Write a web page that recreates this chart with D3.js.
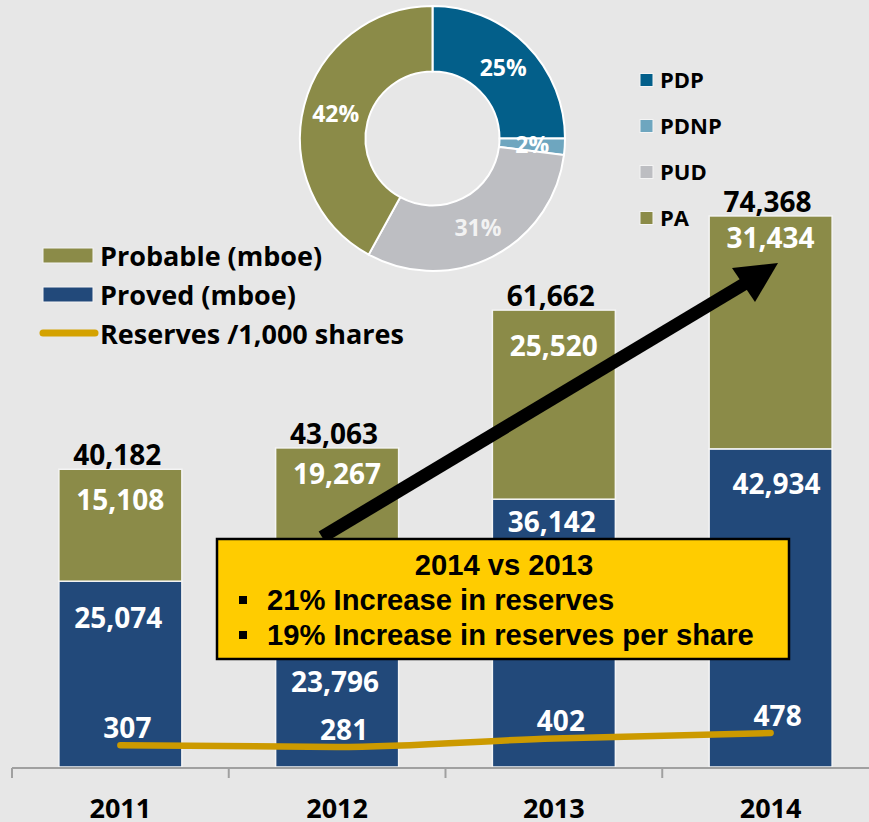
<!DOCTYPE html>
<html>
<head>
<meta charset="utf-8">
<script src="https://cdn.jsdelivr.net/npm/d3@7"></script>
<style>
  html, body { margin: 0; padding: 0; background: #e7e7e7; }
  svg { display: block; }
  text { font-family: "Open Sans", sans-serif; font-weight: bold; }
</style>
</head>
<body>
<svg id="chart" width="869" height="822"></svg>
<script>
// data
const years = ['2011', '2012', '2013', '2014'];
const proved = [25074, 23796, 36142, 42934];
const probable = [15108, 19267, 25520, 31434];
const totals = [40182, 43063, 61662, 74368];
const perShare = [307, 281, 402, 478];

const pieLabels = ['PDP', 'PDNP', 'PUD', 'PA'];
const pieValues = [25, 2, 31, 42];

const boxTitle = '2014 vs 2013';
const boxBullets = ['21% Increase in reserves', '19% Increase in reserves per share'];

// label nudges (px below segment top), taken from the slide
const provedLabelDy = [37, 91, 23, 35];
const probableLabelDy = [31, 26, 36, 22];

const colors = {
  probable: '#8b8b48',
  proved: '#22497a',
  line: '#cc9a00',
  pie: ['#035f8a', '#6ea6bf', '#bdbec2', '#8b8b48'],
  box: '#ffcc00'
};

const svg = d3.select('#chart');
const W = 869, H = 822;

svg.append('rect').attr('width', W).attr('height', H).attr('fill', '#e7e7e7');

// scales
const x = d3.scaleBand()
  .domain(years)
  .range([12, 879])
  .paddingInner(0.4325)
  .paddingOuter(0.4325 / 2);

const y = d3.scaleLinear().domain([0, 80000]).range([767, 767 - 80000 * 0.00741]);
const y2 = d3.scaleLinear().domain([0, 500]).range([767, 767 - 500 * 0.0711]);

const xc = d => x(d) + x.bandwidth() / 2;

const rows = years.map((yr, i) => ({
  year: yr, i,
  proved: proved[i], probable: probable[i], total: totals[i], perShare: perShare[i]
}));

// bars
const barG = svg.append('g');
barG.selectAll('rect.proved')
  .data(rows).enter().append('rect')
  .attr('class', 'proved')
  .attr('x', d => x(d.year))
  .attr('width', x.bandwidth())
  .attr('y', d => y(d.proved))
  .attr('height', d => y(0) - y(d.proved))
  .attr('fill', colors.proved)
  .attr('stroke', '#f4f4f4').attr('stroke-width', 1.5);

barG.selectAll('rect.probable')
  .data(rows).enter().append('rect')
  .attr('class', 'probable')
  .attr('x', d => x(d.year))
  .attr('width', x.bandwidth())
  .attr('y', d => y(d.proved + d.probable))
  .attr('height', d => y(d.proved) - y(d.proved + d.probable))
  .attr('fill', colors.probable)
  .attr('stroke', '#f4f4f4').attr('stroke-width', 1.5);

const fmt = d3.format(',');

// totals above bars
barG.selectAll('text.total')
  .data(rows).enter().append('text')
  .attr('x', d => xc(d.year) - 3)
  .attr('y', d => y(d.total) - 14)
  .attr('dy', '0.36em')
  .attr('text-anchor', 'middle')
  .style('font-size', '28px')
  .attr('fill', '#000')
  .text(d => fmt(d.total));

barG.selectAll('text.prob')
  .data(rows).enter().append('text')
  .attr('x', d => xc(d.year))
  .attr('y', d => y(d.proved + d.probable) + probableLabelDy[d.i])
  .attr('dy', '0.36em')
  .attr('text-anchor', 'middle')
  .style('font-size', '28px')
  .attr('fill', '#fff')
  .text(d => fmt(d.probable));

// arrow (annotation)
const arrowG = svg.append('g');
arrowG.append('line')
  .attr('x1', 322).attr('y1', 537)
  .attr('x2', 745).attr('y2', 283.5)
  .attr('stroke', '#000').attr('stroke-width', 13);
arrowG.append('path')
  .attr('d', 'M778,263 L732,268 L755,302 Z')
  .attr('fill', '#000');

barG.selectAll('text.prov')
  .data(rows).enter().append('text')
  .attr('x', d => xc(d.year) + (d.i === 3 ? 6 : -2))
  .attr('y', d => y(d.proved) + provedLabelDy[d.i])
  .attr('dy', '0.36em')
  .attr('text-anchor', 'middle')
  .style('font-size', '28px')
  .attr('fill', '#fff')
  .text(d => fmt(d.proved));

// reserves per share line
const line = d3.line()
  .x(d => xc(d.year))
  .y(d => y2(d.perShare))
  .curve(d3.curveMonotoneX);

svg.append('path')
  .datum(rows)
  .attr('d', line)
  .attr('fill', 'none')
  .attr('stroke', colors.line)
  .attr('stroke-width', 6.5)
  .attr('stroke-linecap', 'round');

svg.selectAll('text.ps')
  .data(rows).enter().append('text')
  .attr('x', d => xc(d.year) + 7)
  .attr('y', d => y2(d.perShare) - 17)
  .attr('dy', '0.36em')
  .attr('text-anchor', 'middle')
  .style('font-size', '28px')
  .attr('fill', '#fff')
  .text(d => d.perShare);

// x axis
const axisG = svg.append('g');
axisG.append('line')
  .attr('x1', 12).attr('x2', W)
  .attr('y1', 768).attr('y2', 768)
  .attr('stroke', '#a0a0a0').attr('stroke-width', 2);
const step = x.step();
axisG.selectAll('line.tick')
  .data(years).enter().append('line')
  .attr('x1', d => x(d) - step * x.paddingInner() / 2)
  .attr('x2', d => x(d) - step * x.paddingInner() / 2)
  .attr('y1', 768).attr('y2', 778)
  .attr('stroke', '#a0a0a0').attr('stroke-width', 2);
axisG.selectAll('text.year')
  .data(years).enter().append('text')
  .attr('x', d => xc(d))
  .attr('y', 808)
  .attr('dy', '0.36em')
  .attr('text-anchor', 'middle')
  .style('font-size', '27px')
  .attr('fill', '#000')
  .text(d => d);

// callout box
const boxG = svg.append('g');
boxG.append('rect')
  .attr('x', 217).attr('y', 539)
  .attr('width', 572).attr('height', 120)
  .attr('fill', colors.box)
  .attr('stroke', '#000').attr('stroke-width', 2.5);
boxG.append('text')
  .attr('x', 504).attr('y', 575)
  .attr('text-anchor', 'middle')
  .style('font-family', '"Liberation Sans", Arial, sans-serif')
  .style('font-size', '29.2px')
  .text(boxTitle);
boxBullets.forEach((t, i) => {
  const base = 610 + i * 35;
  boxG.append('rect')
    .attr('x', 239).attr('y', base - 14)
    .attr('width', 8).attr('height', 8)
    .attr('fill', '#000');
  boxG.append('text')
    .attr('x', 267).attr('y', base)
    .style('font-family', '"Liberation Sans", Arial, sans-serif')
    .style('font-size', '29.2px')
    .text(t);
});

// bar legend
const legG = svg.append('g');
const legItems = [
  { label: 'Probable (mboe)', color: colors.probable, type: 'rect' },
  { label: 'Proved (mboe)', color: colors.proved, type: 'rect' },
  { label: 'Reserves /1,000 shares', color: colors.line, type: 'line' }
];
legItems.forEach((d, i) => {
  const cy = 256 + i * 39;
  if (d.type === 'rect') {
    legG.append('rect')
      .attr('x', 43).attr('y', cy - 8)
      .attr('width', 50).attr('height', 15)
      .attr('fill', d.color)
      .attr('stroke', '#f4f4f4').attr('stroke-width', 1);
  } else {
    legG.append('line')
      .attr('x1', 43).attr('x2', 95)
      .attr('y1', cy - 1).attr('y2', cy - 1)
      .attr('stroke', '#d4a200').attr('stroke-width', 7)
      .attr('stroke-linecap', 'round');
  }
  legG.append('text')
    .attr('x', 100).attr('y', cy)
    .attr('dy', '0.36em')
    .style('font-size', '27px')
    .attr('fill', '#000')
    .text(d.label);
});

// donut
const pieData = pieLabels.map((k, i) => ({ key: k, value: pieValues[i], color: colors.pie[i] }));
const pie = d3.pie().sort(null).value(d => d.value);
const arc = d3.arc().innerRadius(67).outerRadius(132.5);
const labelArc = d3.arc().innerRadius(100).outerRadius(100);

const pieG = svg.append('g').attr('transform', 'translate(432.5,138.5)');
const arcs = pie(pieData);
pieG.selectAll('path')
  .data(arcs).enter().append('path')
  .attr('d', arc)
  .attr('fill', d => d.data.color)
  .attr('stroke', '#fff').attr('stroke-width', 2);
pieG.selectAll('text')
  .data(arcs).enter().append('text')
  .attr('transform', d => `translate(${labelArc.centroid(d)})`)
  .attr('dy', '0.36em')
  .attr('text-anchor', 'middle')
  .style('font-size', '23px')
  .attr('fill', d => d.data.key === 'PUD' ? '#f2f2f2' : '#fff')
  .text(d => d.data.value + '%');

// donut legend
const pLeg = svg.append('g');
pieData.forEach((d, i) => {
  const cy = 80 + i * 46;
  pLeg.append('rect')
    .attr('x', 640).attr('y', cy - 6.5)
    .attr('width', 13).attr('height', 13)
    .attr('fill', d.color)
    .attr('stroke', '#f4f4f4').attr('stroke-width', 1);
  pLeg.append('text')
    .attr('x', 660).attr('y', cy)
    .attr('dy', '0.36em')
    .style('font-size', '22px')
    .attr('fill', '#000')
    .text(d.key);
});
</script>
</body>
</html>
